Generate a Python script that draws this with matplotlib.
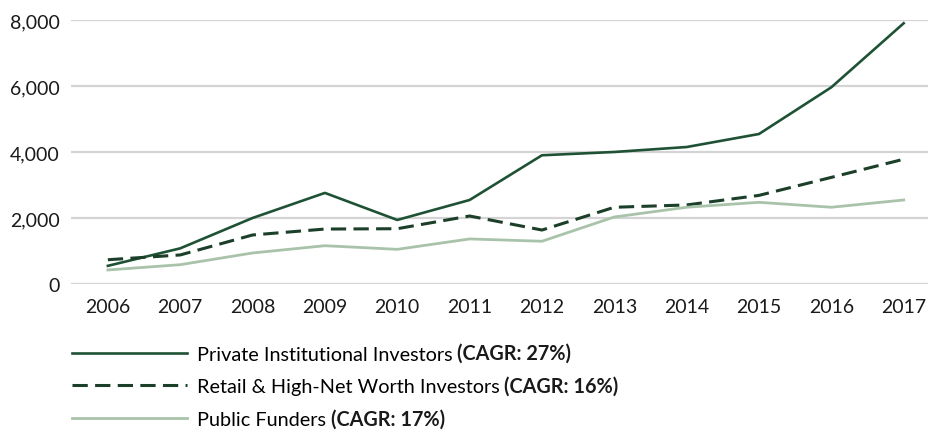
import matplotlib.pyplot as plt
from matplotlib.ticker import FuncFormatter

plt.rcParams['font.family'] = ['Lato', 'DejaVu Sans']

years = list(range(2006, 2018))
private_inst = [560, 1090, 2010, 2770, 1950, 2555, 3910, 4010, 4160, 4555, 5970, 7910]
retail_hnw = [745, 890, 1495, 1675, 1685, 2070, 1645, 2335, 2405, 2695, 3240, 3790]
public_funders = [435, 595, 950, 1170, 1060, 1375, 1305, 2040, 2335, 2485, 2335, 2555]

labels = ["Private Institutional Investors", "Retail & High-Net Worth Investors", "Public Funders"]
cagr_labels = ["(CAGR: 27%)", "(CAGR: 16%)", "(CAGR: 17%)"]

dark = "#1f5234"
darker = "#1b3f29"
light = "#a9c3aa"

fig = plt.figure(figsize=(9.29, 4.31), dpi=100)
ax = fig.add_axes([0.0764, 0.338, 0.9236, 0.6126])

# gridlines
ax.set_yticks([0, 2000, 4000, 6000, 8000])
ax.yaxis.grid(True, color="#d4d4d4", linewidth=1.6)
ax.set_axisbelow(True)

l1, = ax.plot(years, private_inst, color=dark, linewidth=1.9, clip_on=False)
l2, = ax.plot(years, retail_hnw, color=darker, linewidth=2.2, dashes=(5, 2.4), clip_on=False)
l3, = ax.plot(years, public_funders, color=light, linewidth=2.0, clip_on=False)

ax.set_xlim(2005.49, 2017.35)
ax.set_ylim(0, 8000)
ax.set_xticks(years)
ax.yaxis.set_major_formatter(FuncFormatter(lambda v, p: f"{int(v):,}"))

for s in ax.spines.values():
    s.set_visible(False)
ax.tick_params(axis="both", length=0, labelsize=14, colors="#1a1a1a")
ax.tick_params(axis="y", pad=8)
ax.tick_params(axis="x", pad=10)

leg = fig.legend([l1, l2, l3], labels, loc="upper left", bbox_to_anchor=(0.077, 0.196),
                 frameon=False, fontsize=14.3, handlelength=5.8, handletextpad=0.5,
                 labelspacing=0.8, borderaxespad=0, borderpad=0)

# bold CAGR part right after each legend label
fig.canvas.draw()
inv = fig.transFigure.inverted()
for t, c in zip(leg.get_texts(), cagr_labels):
    bb = t.get_window_extent()
    x0, y0 = inv.transform((bb.x1 + 5, bb.y0))
    fig.text(x0, y0, c, ha="left", va="bottom", fontsize=14.3,
             fontweight="bold", color="#1a1a1a")

fig.savefig("out.png", dpi=100)
